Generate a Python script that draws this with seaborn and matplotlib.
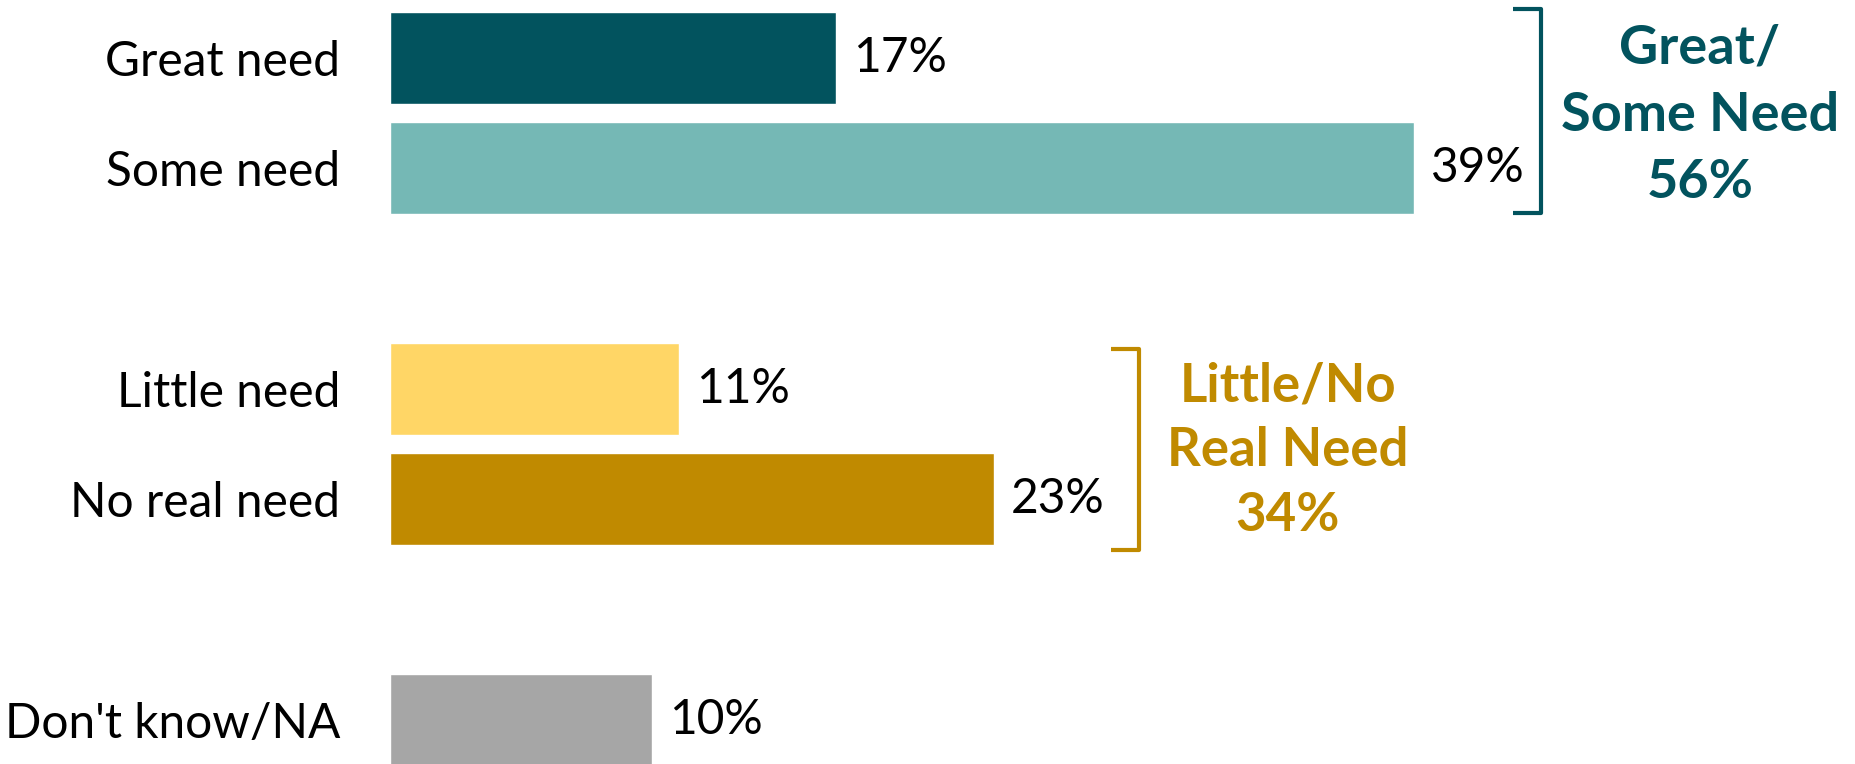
import matplotlib
matplotlib.use("Agg")
import matplotlib.pyplot as plt
import seaborn as sns

# survey answers, top to bottom
labels = ["Great need", "Some need", "Little need", "No real need", "Don't know/NA"]
values = [17, 39, 11, 23, 10]
slots = [0, 1, 3, 4, 6]  # leave a blank row between the groups
colors = ["#02535E", "#75B8B5", "#FFD666", "#C08A00", "#A6A6A6"]

group_labels = ["Great/\nSome Need\n56%", "Little/No\nReal Need\n34%"]
group_colors = ["#02535E", "#C08A00"]

sns.set_style("white")
plt.rcParams["font.family"] = ["Lato", "DejaVu Sans"]
plt.rcParams["text.color"] = "black"
plt.rcParams["ytick.color"] = "black"

fig = plt.figure(figsize=(18.56, 7.64), dpi=100)
ax = fig.add_axes([390 / 1856, 0, 1 - 390 / 1856, 1])

sns.barplot(x=values, y=slots, hue=labels, palette=colors, orient="h",
            native_scale=True, width=0.835, legend=False, saturation=1, ax=ax)

ax.set_xlim(0, 55.85)
ax.set_ylim(6.40, -0.526)
ax.set_yticks(slots)
ax.set_yticklabels(labels, fontsize=34.5)
ax.tick_params(axis="y", length=0, pad=36)
ax.set_xticks([])
ax.set_xlabel("")
ax.set_ylabel("")
sns.despine(ax=ax, left=True, bottom=True)

for v, s in zip(values, slots):
    ax.text(v + 0.65, s, f"{v}%", va="center", ha="left", fontsize=34.5)

# brackets and group totals
def bracket(x, y0, y1, color):
    ax.plot([x - 1.07, x, x, x - 1.07], [y0, y0, y1, y1], color=color,
            lw=3, solid_joinstyle="round", solid_capstyle="butt", clip_on=False)

bracket(43.85, -0.445, 1.405, group_colors[0])
bracket(28.55, 2.64, 4.46, group_colors[1])

ax.text(49.9, 0.52, group_labels[0], ha="center", va="center", fontsize=39,
        fontweight="bold", color=group_colors[0], linespacing=1.45)
ax.text(34.2, 3.56, group_labels[1], ha="center", va="center", fontsize=38,
        fontweight="bold", color=group_colors[1], linespacing=1.4)

fig.savefig("out.png", dpi=100)
